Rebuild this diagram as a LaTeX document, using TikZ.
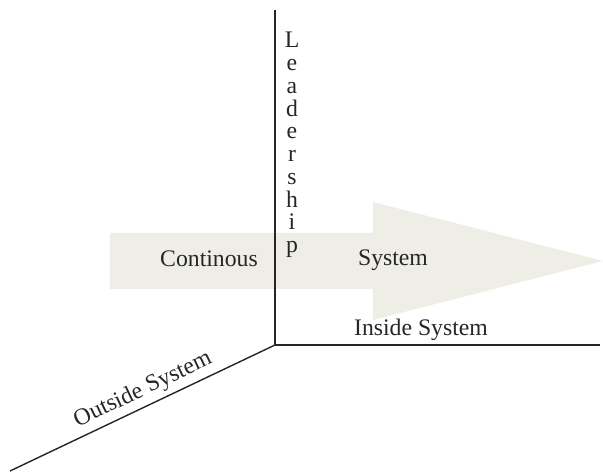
\documentclass[tikz,border=0pt]{standalone}
\usepackage{fontspec}
\setmainfont{Liberation Serif}
\definecolor{arrowfill}{RGB}{238,237,230}
\usetikzlibrary{positioning}

\begin{document}
\begin{tikzpicture}[
            axis line/.style={line width=0.8pt,black!85},
            label text/.style={font=\fontsize{13.5}{16}\selectfont,text=black!85,inner sep=0pt}
        ]
            \useasboundingbox (-5.5,-2.54) rectangle (6.56,6.9);

            % flow arrow behind the axes
            \fill[arrowfill] (-3.3,2.24) -- (1.96,2.24) -- (1.96,2.86) -- (6.56,1.68)
                -- (1.96,0.5) -- (1.96,1.12) -- (-3.3,1.12) -- cycle;

            % axes
            \coordinate (origin) at (0,0);
            \coordinate (top) at (0,6.7);
            \coordinate (inside) at (6.5,0);
            \coordinate (outside) at (-5.3,-2.52);
            \draw[axis line] (top) -- (origin) -- (inside);
            \draw[axis line] (origin) -- (outside);

            % vertical letters
            \foreach \ch [count=\i from 0] in {L,e,a,d,e,r,s,h,i,p}
                \node[label text,anchor=base] (lead\i) at (0.34,5.94-0.455*\i) {\ch};

            \node[label text] (cont) at (-1.32,1.72) {Continous};
            \node[label text] (sys) at (2.36,1.7) {System};
            \node[label text] (ins) at (2.92,0.3) {Inside System};
            \node[label text,rotate=25.5] (outs) at (-2.64,-0.9) {Outside System};
        \end{tikzpicture}
\end{document}
